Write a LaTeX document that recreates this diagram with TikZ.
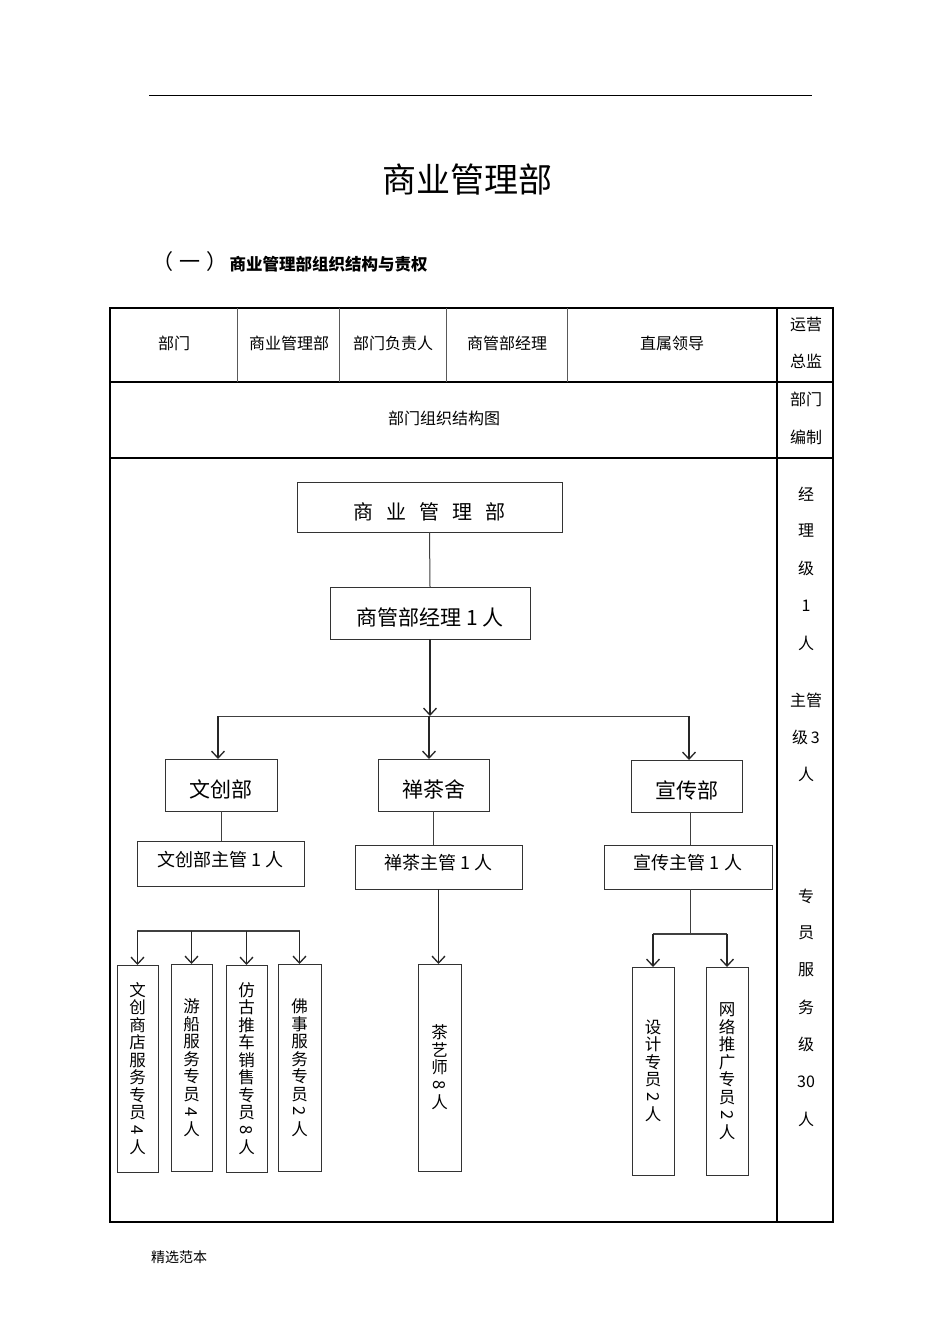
\documentclass[tikz,border=0pt]{standalone}
\usepackage{fontspec}
\setmainfont{Noto Sans CJK SC}
\usetikzlibrary{arrows.meta}

\newcommand{\rotd}[1]{\rotatebox[origin=c]{-90}{#1}}

\tikzset{
    box/.style={draw=black!80, line width=1pt, inner sep=0pt, outer sep=0pt,
        text height=25pt, text depth=0pt, font=\fontsize{21}{24}\selectfont},
    subbox/.style={box, minimum width=167, minimum height=45,
        text height=8pt, text depth=2.4pt, font=\fontsize{18}{21}\selectfont},
    vbox/.style={box, minimum width=42, minimum height=207, align=center,
        text height=, text depth=, font=\fontsize{16.5}{17.5}\selectfont},
    lnk/.style={line width=1pt, draw=black!75},
    arr/.style={line width=1.3pt, draw=black!85,
        -{Straight Barb[length=7pt,width=13pt,line width=1.3pt]}},
    cell/.style={font=\fontsize{16}{19}\selectfont},
    rule/.style={line width=1.2pt}
}

\begin{document}
\begin{tikzpicture}[x=1pt,y=-1pt]
    \useasboundingbox (0,0) rectangle (945,1337);
    \fill[white] (0,0) rectangle (945,1337);

    % page head
    \draw[line width=1pt] (149,96) -- (812,96);
    \node[font=\fontsize{34}{38}\selectfont] (title) at (467,180) {商业管理部};
    \node[anchor=west, font=\fontsize{21}{23}\selectfont] (num) at (149,262) {（\hspace{6pt}一\hspace{6pt}）};
    \node[anchor=west, font=\fontsize{16.5}{19}\selectfont\bfseries] (sub) at (226,264) {商业管理部组织结构与责权};

    % table frame
    \draw[rule] (110,308) rectangle (833,1222);
    \draw[rule] (777,308) -- (777,1222);
    \draw[rule] (110,382) -- (833,382);
    \draw[rule] (110,458) -- (833,458);
    \foreach \x in {237,339,446,567}
        \draw[line width=1pt, black!65] (\x,308) -- (\x,382);
    \draw[line width=2pt] (777,674) -- (777,683);
    \draw[line width=2pt] (777,786) -- (777,795);

    \node[cell] (c1) at (174,343) {部门};
    \node[cell] (c2) at (289,343) {商业管理部};
    \node[cell] (c3) at (393,343) {部门负责人};
    \node[cell] (c4) at (507,343) {商管部经理};
    \node[cell] (c5) at (672,343) {直属领导};
    \node[cell] (c6) at (444,418) {部门组织结构图};
    \foreach \t/\y in {运营/324, 总监/361, 部门/399, 编制/437, 经/494, 理/531, 级/568,
            1/606, 人/643, 主管/700, 级\,3/737, 人/774, 专/896, 员/933, 服/970,
            务/1007, 级/1044, 30/1082, 人/1119}
        \node[cell] (r\y) at (806,\y) {\t};

    % org chart
    \node[box, minimum width=265, minimum height=50, font=\fontsize{20}{24}\selectfont] (bu) at (429.5,507)
        {商\hspace{13pt}业\hspace{13pt}管\hspace{13pt}理\hspace{13pt}部};
    \node[box, minimum width=200, minimum height=52] (jl) at (430,613) {商管部经理 1 人};

    \node[box, minimum width=112, minimum height=52] (wc) at (221,785) {文创部};
    \node[box, minimum width=111, minimum height=52] (cs) at (433.5,785) {禅茶舍};
    \node[box, minimum width=111, minimum height=52] (xc) at (686.5,786) {宣传部};

    \node[subbox] (wczg) at (220.5,863.5) {文创部主管 1 人};
    \node[subbox, minimum height=44] (cszg) at (438.5,867) {禅茶主管 1 人};
    \node[subbox, minimum width=168, minimum height=44] (xczg) at (688,867) {宣传主管 1 人};

    \node[vbox, minimum width=41] (v1) at (137.5,1068.5) {文\\创\\商\\店\\服\\务\\专\\员\\\rotd{4}\\人};
    \node[vbox, minimum width=41] (v2) at (191.5,1067.5) {游\\船\\服\\务\\专\\员\\\rotd{4}\\人};
    \node[vbox, minimum width=41] (v3) at (246.5,1068.5) {仿\\古\\推\\车\\销\\售\\专\\员\\\rotd{8}\\人};
    \node[vbox, minimum width=43] (v4) at (299.5,1067.5) {佛\\事\\服\\务\\专\\员\\\rotd{2}\\人};
    \node[vbox, minimum width=43] (v5) at (439.5,1067.5) {茶\\艺\\师\\\rotd{8}\\人};
    \node[vbox, minimum height=208] (v6) at (653,1071) {设\\计\\专\\员\\\rotd{2}\\人};
    \node[vbox, minimum height=208] (v7) at (727,1071) {网\\络\\推\\广\\专\\员\\\rotd{2}\\人};

    \coordinate (bar) at (429,716);
    \coordinate (barL) at (218,716);
    \coordinate (barR) at (689,716);
    \coordinate (wcbar) at (137,931);
    \coordinate (xcbar) at (690,934);

    \draw[lnk] (bu.south) -- (jl.north);
    \draw[arr] (jl.south) -- (jl.south |- bar);
    \draw[lnk] (barL) -- (barR);
    \draw[arr] (barL) -- (barL |- wc.north);
    \draw[arr] (bar) -- (bar |- cs.north);
    \draw[arr] (barR) -- (barR |- xc.north);

    \draw[lnk] (wc.south) -- (wc.south |- wczg.north);
    \draw[lnk] (cs.south) -- (cs.south |- cszg.north);
    \draw[lnk] (xc.south -| xcbar) -- (xcbar |- xczg.north);

    \draw[lnk, line width=1.3pt] (wcbar) -- (v4.north |- wcbar);
    \foreach \v in {v1,v2,v3,v4}
        \draw[arr] (\v.north |- wcbar) -- (\v.north);
    \draw[arr] (cszg.south) -- (cszg.south |- v5.north);
    \draw[lnk] (xczg.south -| xcbar) -- (xcbar);
    \draw[lnk, line width=1.3pt] (v6.north |- xcbar) -- (v7.north |- xcbar);
    \foreach \v in {v6,v7}
        \draw[arr] (\v.north |- xcbar) -- (\v.north);

    \node[font=\fontsize{14}{16}\selectfont] (foot) at (179,1257) {精选范本};
\end{tikzpicture}
\end{document}
